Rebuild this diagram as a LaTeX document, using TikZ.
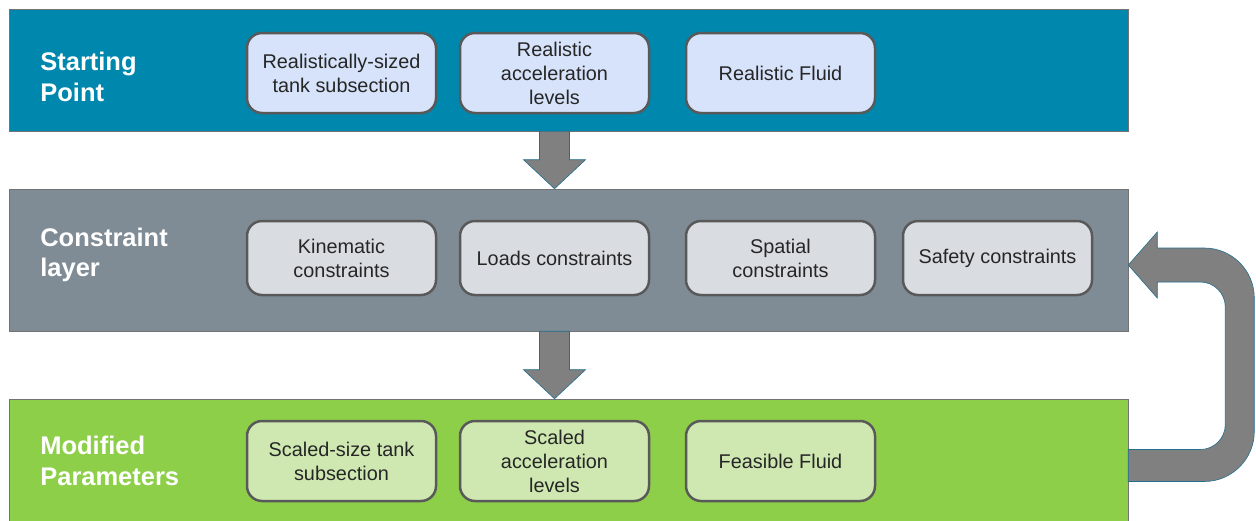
\documentclass[tikz,border=0pt]{standalone}
\usepackage{fontspec}
\setmainfont{Liberation Sans}
\usetikzlibrary{calc}
\definecolor{startblue}{HTML}{0087AD}
\definecolor{consgray}{HTML}{7F8C96}
\definecolor{modigreen}{HTML}{8ECF4A}
\definecolor{boxblue}{HTML}{D7E3FA}
\definecolor{boxgray}{HTML}{D9DDE1}
\definecolor{boxgreen}{HTML}{CFE8B2}
\definecolor{arrowgray}{HTML}{808080}
\definecolor{arrowedge}{HTML}{256F8C}
\begin{document}
\begin{tikzpicture}[x=0.2mm, y=-0.2mm,
  band/.style={rectangle, draw=black!55, line width=0.3pt, inner sep=0pt, minimum width=223.8mm},
  ttl/.style={anchor=west, align=left, inner sep=0pt, text=white, font=\fontsize{14.5}{17.5}\selectfont\bfseries},
  item/.style={rectangle, rounded corners=3mm, draw=black!65, line width=0.5mm, inner sep=1pt,
    minimum width=37.8mm, align=center, text=black!85, font=\fontsize{11.3}{13.6}\selectfont},
  blockarrow/.style={fill=arrowgray, draw=arrowedge, line width=0.35pt, line join=miter}]
\useasboundingbox (0,0) rectangle (1256,520);
% three layers
\node[band, fill=startblue, minimum height=24.4mm] (start) at (568.5,70) {};
\node[band, fill=consgray, minimum height=28.4mm] (cons) at (568.5,260) {};
\node[band, fill=modigreen, minimum height=24.6mm] (modi) at (568.5,460.5) {};
\node[ttl] (tstart) at (40,77) {Starting\\Point};
\node[ttl] (tcons) at (40,255) {Constraint\\layer};
\node[ttl] (tmodi) at (40,461) {Modified\\Parameters};
% starting point items
\node[item, fill=boxblue, minimum height=16mm] (s1) at (341.5,73) {Realistically-sized\\tank subsection};
\node[item, fill=boxblue, minimum height=16mm] (s2) at (554.5,73) {Realistic\\acceleration\\levels};
\node[item, fill=boxblue, minimum height=16mm] (s3) at (780.5,73) {Realistic Fluid};
% constraint items
\node[item, fill=boxgray, minimum height=14.8mm] (c1) at (341.5,258) {Kinematic\\constraints};
\node[item, fill=boxgray, minimum height=14.8mm] (c2) at (554.5,258) {Loads constraints};
\node[item, fill=boxgray, minimum height=14.8mm] (c3) at (780.5,258) {Spatial\\constraints};
\node[item, fill=boxgray, minimum height=14.8mm] (c4) at (997.5,258) {Safety constraints};
% modified items
\node[item, fill=boxgreen, minimum height=16mm] (m1) at (341.5,461) {Scaled-size tank\\subsection};
\node[item, fill=boxgreen, minimum height=16mm] (m2) at (554.5,461) {Scaled\\acceleration\\levels};
\node[item, fill=boxgreen, minimum height=16mm] (m3) at (780.5,461) {Feasible Fluid};
% down arrows between layers
\foreach \a/\b in {start/cons, cons/modi} {
  \coordinate (t\a) at (s2 |- \a.south);
  \coordinate (h\a) at (s2 |- \b.north);
  \draw[blockarrow] ($(t\a)+(-15,0)$) -- ($(t\a)+(15,0)$) -- ($(h\a)+(15,-29)$) -- ($(h\a)+(31,-29)$)
    -- (h\a) -- ($(h\a)+(-31,-29)$) -- ($(h\a)+(-15,-29)$) -- cycle;
}
% feedback loop
\coordinate (lb) at ($(modi.east)+(0,5)$);
\coordinate (lt) at ($(cons.east)+(0,5)$);
\draw[blockarrow] ($(lb)+(0,16)$) [rounded corners=10mm] -- ($(lb)+(126,16)$) -- ($(lt)+(126,-17)$)
  [sharp corners] -- ($(lt)+(29,-17)$) -- ($(lt)+(29,-33)$) -- (lt) -- ($(lt)+(29,33)$)
  -- ($(lt)+(29,17)$) [rounded corners=5mm] -- ($(lt)+(97,17)$) -- ($(lb)+(97,-16)$)
  [sharp corners] -- ($(lb)+(0,-16)$) -- cycle;
\end{tikzpicture}
\end{document}
